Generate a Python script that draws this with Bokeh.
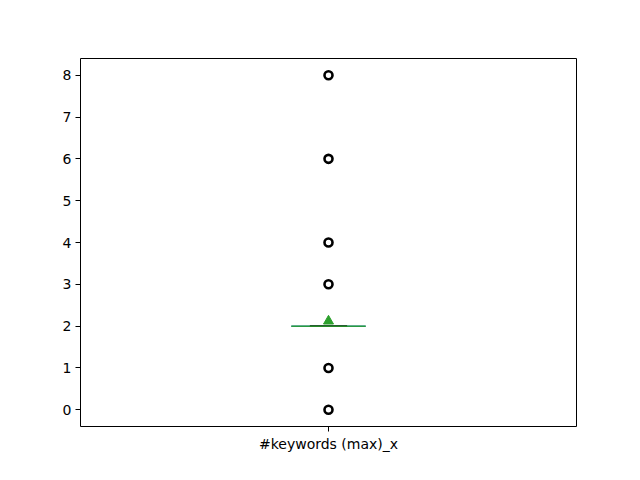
from bokeh.plotting import figure
from bokeh.models import Range1d, FixedTicker
from bokeh.embed import file_html
from bokeh.resources import INLINE

category = "#keywords (max)_x"
position = 1.0
q1 = 2.0
median = 2.0
q3 = 2.0
whisker_low = 2.0
whisker_high = 2.0
mean = 2.12
outliers = [0, 1, 3, 4, 6, 8]
y_ticks = [0, 1, 2, 3, 4, 5, 6, 7, 8]

box_w = 0.15
cap_w = box_w / 2

p = figure(width=640, height=480, output_backend="svg", toolbar_location=None,
           x_range=Range1d(0.5, 1.5), y_range=Range1d(-0.4, 8.4),
           min_border_left=80, min_border_right=64, min_border_top=58, min_border_bottom=54)
p.frame_width = 496
p.frame_height = 368
p.xgrid.visible = False
p.ygrid.visible = False
p.outline_line_color = "black"
p.outline_line_width = 1
p.background_fill_color = "white"
p.border_fill_color = "white"

for ax in (p.xaxis[0], p.yaxis[0]):
    ax.axis_line_color = None
    ax.major_tick_line_color = "black"
    ax.major_tick_out = 5
    ax.major_tick_in = 0
    ax.minor_tick_line_color = None
    ax.major_label_text_font = "DejaVu Sans"
    ax.major_label_text_font_size = "14px"
    ax.major_label_text_color = "black"

p.xaxis.ticker = FixedTicker(ticks=[position])
p.xaxis.major_label_overrides = {position: category}
p.xaxis.major_label_standoff = 4
p.yaxis.ticker = FixedTicker(ticks=y_ticks)
p.yaxis.major_label_standoff = 4

# box (collapsed)
p.quad(left=[position - box_w / 2], right=[position + box_w / 2], bottom=[q1], top=[q3],
       fill_color=None, line_color="#1f77b4", line_width=1.5)
# whiskers
p.segment(x0=[position, position], y0=[q1, q3], x1=[position, position], y1=[whisker_low, whisker_high],
          line_color="black", line_width=1)
# caps
p.segment(x0=[position - cap_w / 2] * 2, y0=[whisker_low, whisker_high],
          x1=[position + cap_w / 2] * 2, y1=[whisker_low, whisker_high],
          line_color="black", line_width=1.5)
# median
p.segment(x0=[position - box_w / 2], y0=[median], x1=[position + box_w / 2], y1=[median],
          line_color="#2ca02c", line_width=1.5, line_alpha=0.85)
# mean
p.scatter(x=[position], y=[mean], marker="triangle", size=10,
          fill_color="#2ca02c", line_color="#2ca02c")
# outliers
p.scatter(x=[position] * len(outliers), y=outliers, marker="circle", size=8,
          fill_color=None, line_color="black", line_width=2.6)

open("out.html", "w").write(file_html(p, INLINE))
